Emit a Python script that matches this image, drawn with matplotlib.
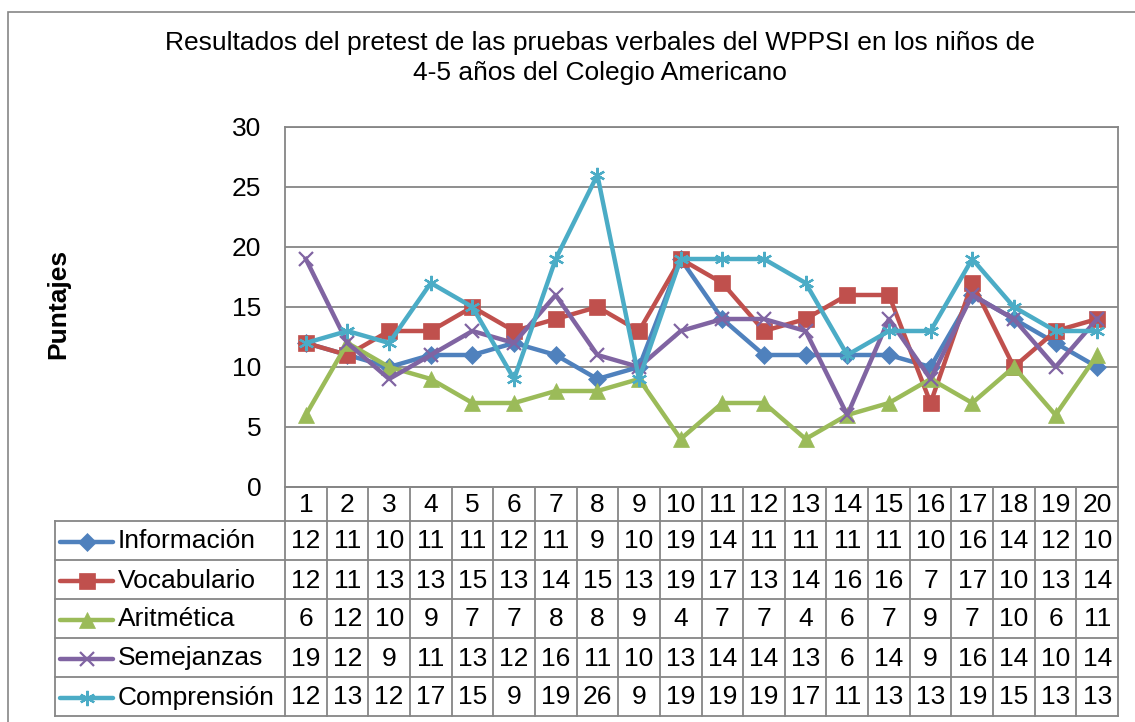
import matplotlib.pyplot as plt
import numpy as np
from matplotlib.patches import Rectangle

plt.rcParams['font.family'] = ['Liberation Sans', 'DejaVu Sans']

# datos
ninos = list(range(1, 21))
series = ['Información', 'Vocabulario', 'Aritmética', 'Semejanzas', 'Comprensión']
informacion = [12, 11, 10, 11, 11, 12, 11, 9, 10, 19, 14, 11, 11, 11, 11, 10, 16, 14, 12, 10]
vocabulario = [12, 11, 13, 13, 15, 13, 14, 15, 13, 19, 17, 13, 14, 16, 16, 7, 17, 10, 13, 14]
aritmetica = [6, 12, 10, 9, 7, 7, 8, 8, 9, 4, 7, 7, 4, 6, 7, 9, 7, 10, 6, 11]
semejanzas = [19, 12, 9, 11, 13, 12, 16, 11, 10, 13, 14, 14, 13, 6, 14, 9, 16, 14, 10, 14]
comprension = [12, 13, 12, 17, 15, 9, 19, 26, 9, 19, 19, 19, 17, 11, 13, 13, 19, 15, 13, 13]
valores = [informacion, vocabulario, aritmetica, semejanzas, comprension]

colores = ['#4F81BD', '#C0504D', '#9BBB59', '#8064A2', '#4BACC6']
marcadores = ['D', 's', '^', 'x', (6, 2, 0)]
tamanos = [9, 11, 11, 10, 11]
gris = '#868686'
fs = 19

W, H = 1135, 722
def px(x0, y0, x1, y1):
    return [x0 / W, 1 - y1 / H, (x1 - x0) / W, (y1 - y0) / H]

fig = plt.figure(figsize=(W / 100, H / 100), dpi=100)
fig.patches.append(Rectangle((8 / W, -0.1), 1.2, 1 - 12 / H + 0.1, transform=fig.transFigure,
                             fill=False, edgecolor=gris, linewidth=1.2))

fig.text(600 / W, 1 - 43 / H, 'Resultados del pretest de las pruebas verbales del WPPSI en los niños de',
         ha='center', va='center', fontsize=fs)
fig.text(600 / W, 1 - 73 / H, '4-5 años del Colegio Americano', ha='center', va='center', fontsize=fs)
fig.text(58 / W, 1 - 304 / H, 'Puntajes', rotation=90, ha='center', va='center',
         fontsize=19, fontweight='bold')

# grafico
ax = fig.add_axes(px(285, 127, 1118, 487))
for vals, c, m, s in zip(valores, colores, marcadores, tamanos):
    ax.plot(ninos, vals, color=c, marker=m, markersize=s, linewidth=3.2,
            markeredgewidth=1.6 if m in ('x', (6, 2, 0)) else 0.5, clip_on=False)
ax.set_xlim(0.5, 20.5)
ax.set_ylim(0, 30)
ax.set_yticks(range(0, 31, 5))
ax.set_xticks([])
ax.yaxis.grid(True, color=gris, linewidth=1.3)
ax.set_axisbelow(True)
ax.tick_params(axis='y', length=0, pad=17, labelsize=fs)
for sp in ax.spines.values():
    sp.set_color(gris)
    sp.set_linewidth(1.3)

# tabla de datos
tax = fig.add_axes(px(55, 487, 1118, 716))
x_izq = 0.5 - (285 - 55) / 41.65
tax.set_xlim(x_izq, 20.5)
tax.set_ylim(229, 0)
tax.axis('off')
filas = [0, 34, 73, 112, 151, 190, 229]
lw = 1.3
tax.plot([0.5, 20.5], [0, 0], color=gris, lw=lw, clip_on=False)
for y in filas[1:]:
    tax.plot([x_izq, 20.5], [y, y], color=gris, lw=lw, clip_on=False)
for i in range(21):
    tax.plot([0.5 + i, 0.5 + i], [0, 229], color=gris, lw=lw, clip_on=False)
tax.plot([x_izq, x_izq], [34, 229], color=gris, lw=lw, clip_on=False)

for n in ninos:
    tax.text(n, 18, str(n), ha='center', va='center', fontsize=fs)
x_l0 = 0.5 + (60 - 285) / 41.65
x_l1 = 0.5 + (113 - 285) / 41.65
x_txt = 0.5 + (118 - 285) / 41.65
for r, (nombre, vals, c, m, s) in enumerate(zip(series, valores, colores, marcadores, tamanos)):
    yc = (filas[r + 1] + filas[r + 2]) / 2 + 1
    tax.plot([x_l0, x_l1], [yc, yc], color=c, lw=3.2, solid_capstyle='round', clip_on=False)
    tax.plot([(x_l0 + x_l1) / 2], [yc], color=c, marker=m, markersize=s,
             markeredgewidth=1.6 if m in ('x', (6, 2, 0)) else 0.5, clip_on=False)
    tax.text(x_txt, yc, nombre, ha='left', va='center', fontsize=fs)
    for n, v in zip(ninos, vals):
        tax.text(n, yc, str(v), ha='center', va='center', fontsize=fs)

fig.savefig('out.png', dpi=100)
